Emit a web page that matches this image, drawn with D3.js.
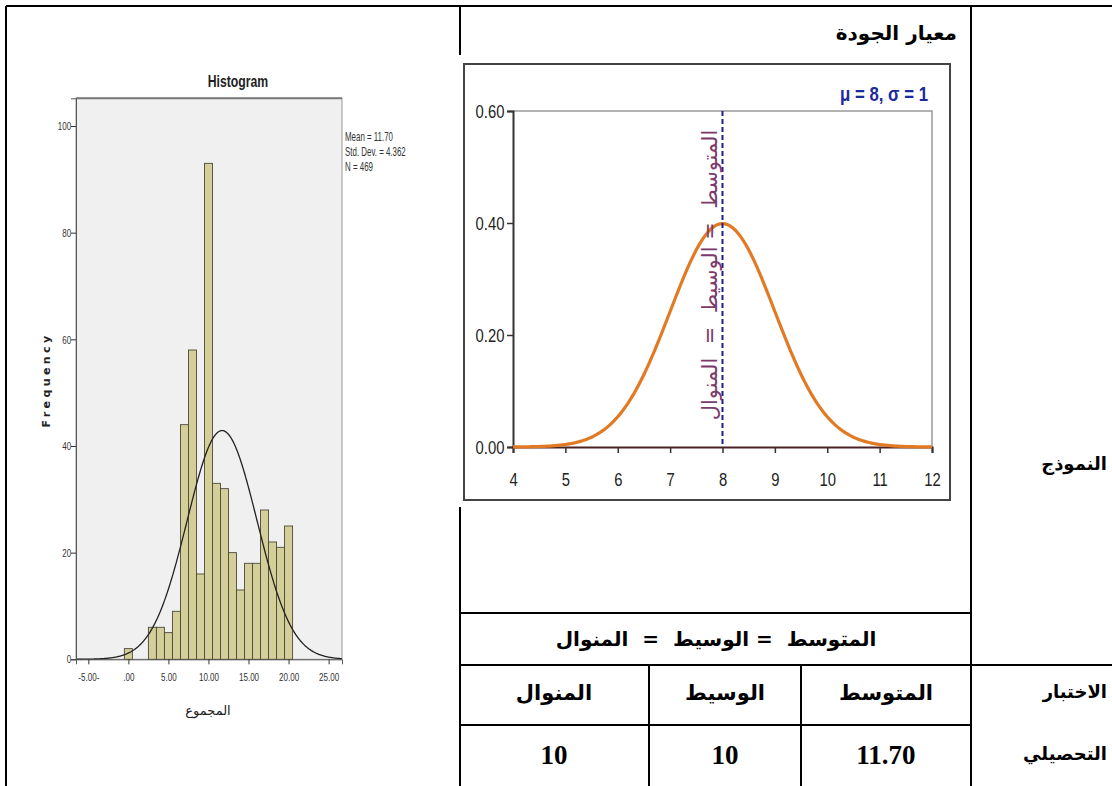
<!DOCTYPE html>
<html>
<head>
<meta charset="utf-8">
<script src="https://cdn.jsdelivr.net/npm/d3@7"></script>
<style>
  body { margin: 0; background: #fff; }
  svg { display: block; }
  text { white-space: pre; }
</style>
</head>
<body>
<div id="chart"></div>
<script>
// histogram (left cell)
var histBins = [0, 3, 4, 5, 6, 7, 8, 9, 10, 11, 12, 13, 14, 15, 16, 17, 18, 19, 20];
var histCounts = [2, 6, 6, 5, 9, 44, 58, 16, 93, 33, 32, 20, 13, 18, 18, 28, 22, 21, 25];
var histYTicks = [0, 20, 40, 60, 80, 100];
var histXTicks = [-5, 0, 5, 10, 15, 20, 25];
var histXTickLabels = ["-5.00-", ".00", "5.00", "10.00", "15.00", "20.00", "25.00"];
var histStats = ["Mean = 11.70", "Std. Dev. = 4.362", "N = 469"];
var histMean = 11.70, histSd = 4.362, histN = 469;

// normal model (middle cell)
var normMu = 8, normSigma = 1;
var normXTicks = [4, 5, 6, 7, 8, 9, 10, 11, 12];
var normYTicks = [0, 0.2, 0.4, 0.6];
var normYTickLabels = ["0.00", "0.20", "0.40", "0.60"];

// table texts
var cellTitle = "معيار الجودة";
var equalityText = "المتوسط  = الوسيط  =  المنوال";
var headers = ["المتوسط", "الوسيط", "المنوال"];
var values = ["11.70", "10", "10"];
var rowLabelModel = "النموذج";
var rowLabelTest = ["الاختبار", "التحصيلي"];

var W = 1112, H = 786;
var sans = "'Liberation Sans',Arial,sans-serif";
var arabic = "'DejaVu Sans',sans-serif";

// squeeze text horizontally (no narrow font installed)
function squeeze(sel, sx) {
    sel.attr("transform", "scale(" + sx + ",1)");
}

var svg = d3.select("#chart").append("svg")
    .attr("width", W).attr("height", H);

// ---------- left: histogram ----------
var hx = d3.scaleLinear().domain([-6.54, 26.67]).range([76, 342]);
var hy = d3.scaleLinear().domain([0, 105.2]).range([659.3, 98.3]);

var hg = svg.append("g");
hg.append("rect")
    .attr("x", hx.range()[0]).attr("y", hy.range()[1])
    .attr("width", hx.range()[1] - hx.range()[0])
    .attr("height", hy.range()[0] - hy.range()[1])
    .attr("fill", "#f0f0f0").attr("stroke", "#999").attr("stroke-width", 1);
hg.append("line")
    .attr("x1", hx.range()[0]).attr("x2", hx.range()[1])
    .attr("y1", hy.range()[1]).attr("y2", hy.range()[1])
    .attr("stroke", "#777").attr("stroke-width", 2);

hg.selectAll(".bar")
    .data(histBins)
    .enter().append("rect")
    .attr("class", "bar")
    .attr("x", function (d) { return hx(d - 0.5); })
    .attr("width", function (d) { return hx(d + 0.5) - hx(d - 0.5); })
    .attr("y", function (d, i) { return hy(histCounts[i]); })
    .attr("height", function (d, i) { return hy(0) - hy(histCounts[i]); })
    .attr("fill", "#d4cf98")
    .attr("stroke", "#4a4a3a")
    .attr("stroke-width", 0.9);

// fitted normal curve
var curvePts = d3.range(hx.domain()[0], hx.domain()[1] + 0.01, 0.1).map(function (v) {
    var z = (v - histMean) / histSd;
    return [v, histN * Math.exp(-0.5 * z * z) / (histSd * Math.sqrt(2 * Math.PI))];
});
hg.append("path")
    .datum(curvePts)
    .attr("fill", "none")
    .attr("stroke", "#222")
    .attr("stroke-width", 1.3)
    .attr("d", d3.line().x(function (d) { return hx(d[0]); }).y(function (d) { return hy(d[1]); }));

var hyAxis = hg.append("g")
    .attr("transform", "translate(" + hx.range()[0] + ",0)")
    .call(d3.axisLeft(hy).tickValues(histYTicks).tickSize(5).tickPadding(2));
var hxAxis = hg.append("g")
    .attr("transform", "translate(0," + hy(0) + ")")
    .call(d3.axisBottom(hx).tickValues(histXTicks).tickSize(5).tickPadding(9)
        .tickFormat(function (d, i) { return histXTickLabels[i]; }));
[hyAxis, hxAxis].forEach(function (a) {
    a.select(".domain").attr("stroke", "#555");
    a.selectAll(".tick line").attr("stroke", "#333");
    a.selectAll("text").attr("font-family", sans).attr("font-size", 11.5).attr("fill", "#333")
        .call(squeeze, 0.7);
});

hg.append("text")
    .attr("transform", "translate(238,87) scale(0.72,1)")
    .attr("text-anchor", "middle")
    .attr("font-family", sans).attr("font-size", 17).attr("font-weight", "bold")
    .attr("fill", "#222")
    .text("Histogram");

hg.append("g")
    .attr("transform", "translate(345,0) scale(0.66,1)")
    .selectAll(".stat")
    .data(histStats)
    .enter().append("text")
    .attr("class", "stat")
    .attr("x", 0)
    .attr("y", function (d, i) { return 141 + i * 15; })
    .attr("font-family", sans).attr("font-size", 12).attr("fill", "#333")
    .text(function (d) { return d; });

hg.append("text")
    .attr("transform", "translate(50,380) rotate(-90)")
    .attr("text-anchor", "middle")
    .attr("font-family", "'DejaVu Sans',sans-serif").attr("font-size", 11)
    .attr("font-weight", "bold").attr("letter-spacing", 3.4)
    .attr("fill", "#222")
    .text("Frequency");

hg.append("text")
    .attr("x", 208).attr("y", 715)
    .attr("text-anchor", "middle")
    .attr("font-family", arabic).attr("font-size", 13).attr("fill", "#222")
    .text("المجموع");

// ---------- middle: normal model image ----------
var ng = svg.append("g");
ng.append("rect")
    .attr("x", 458).attr("y", 55).attr("width", 500).attr("height", 452)
    .attr("fill", "#fff");
ng.append("rect")
    .attr("x", 464).attr("y", 64).attr("width", 486).attr("height", 436)
    .attr("fill", "#fff").attr("stroke", "#444").attr("stroke-width", 2);

var nx = d3.scaleLinear().domain([4, 12]).range([513, 932]);
var ny = d3.scaleLinear().domain([0, 0.6]).range([447, 111]);

// frame of plot (grey top / right)
ng.append("path")
    .attr("d", "M" + nx(4) + "," + ny(0.6) + "H" + nx(12) + "V" + ny(0))
    .attr("fill", "none").attr("stroke", "#999").attr("stroke-width", 1.5);

var nyAxis = ng.append("g")
    .attr("transform", "translate(" + nx(4) + ",0)")
    .call(d3.axisLeft(ny).tickValues(normYTicks).tickSize(6).tickPadding(5)
        .tickFormat(function (d, i) { return normYTickLabels[i]; }));
var nxAxis = ng.append("g")
    .attr("transform", "translate(0," + ny(0) + ")")
    .call(d3.axisBottom(nx).tickValues(normXTicks).tickSize(6).tickPadding(20));
[nyAxis, nxAxis].forEach(function (a) {
    a.select(".domain").attr("stroke", "#333").attr("stroke-width", 2);
    a.selectAll(".tick line").attr("stroke", "#333").attr("stroke-width", 1.5);
    a.selectAll("text").attr("font-family", sans).attr("font-size", 19).attr("fill", "#222")
        .call(squeeze, 0.78);
});
nxAxis.select(".domain").attr("stroke", "#4a2222");

var normPts = d3.range(4, 12.001, 0.05).map(function (v) {
    var z = (v - normMu) / normSigma;
    return [v, Math.exp(-0.5 * z * z) / (normSigma * Math.sqrt(2 * Math.PI))];
});
ng.append("path")
    .datum(normPts)
    .attr("fill", "none")
    .attr("stroke", "#e27a24")
    .attr("stroke-width", 3.2)
    .attr("d", d3.line().x(function (d) { return nx(d[0]); }).y(function (d) { return ny(d[1]); }));

ng.append("line")
    .attr("x1", nx(normMu)).attr("x2", nx(normMu))
    .attr("y1", ny(0.6)).attr("y2", ny(0))
    .attr("stroke", "#1b1f8c").attr("stroke-width", 2)
    .attr("stroke-dasharray", "5,3");

ng.append("text")
    .attr("transform", "translate(" + (nx(normMu) - 6) + ",275) rotate(-90)")
    .attr("text-anchor", "middle")
    .attr("font-family", arabic).attr("font-size", 21)
    .attr("fill", "#7b3a6c")
    .text(equalityText);

ng.append("text")
    .attr("transform", "translate(928,101) scale(0.84,1)")
    .attr("text-anchor", "end")
    .attr("font-family", sans).attr("font-size", 20).attr("font-weight", "bold")
    .attr("fill", "#1c2a9c")
    .text("μ = 8, σ = 1");

// ---------- table ----------
var tg = svg.append("g").attr("stroke", "#000").attr("stroke-width", 2);
var lines = [
    [6, 6, W, 6],
    [6, 6, 6, H],
    [460, 6, 460, 55],
    [460, 507, 460, H],
    [971, 6, 971, H],
    [460, 613, 971, 613],
    [460, 665, W, 665],
    [460, 725, 971, 725],
    [649, 665, 649, H],
    [801, 665, 801, H]
];
tg.selectAll("line")
    .data(lines)
    .enter().append("line")
    .attr("x1", function (d) { return d[0]; })
    .attr("y1", function (d) { return d[1]; })
    .attr("x2", function (d) { return d[2]; })
    .attr("y2", function (d) { return d[3]; });

var txt = svg.append("g").attr("font-family", arabic).attr("font-weight", "bold").attr("fill", "#000");

txt.append("text")
    .attr("x", 957).attr("y", 40)
    .attr("text-anchor", "end").attr("font-size", 20)
    .text(cellTitle);

txt.append("text")
    .attr("x", 716).attr("y", 646)
    .attr("text-anchor", "middle").attr("font-size", 20)
    .text(equalityText);

var colCenters = [886, 725, 554];
txt.selectAll(".hdr")
    .data(headers)
    .enter().append("text")
    .attr("class", "hdr")
    .attr("x", function (d, i) { return colCenters[i]; })
    .attr("y", 700)
    .attr("text-anchor", "middle").attr("font-size", 21)
    .text(function (d) { return d; });

txt.selectAll(".val")
    .data(values)
    .enter().append("text")
    .attr("class", "val")
    .attr("x", function (d, i) { return colCenters[i]; })
    .attr("y", 764)
    .attr("text-anchor", "middle")
    .attr("font-family", "'Liberation Serif',serif").attr("font-size", 27)
    .text(function (d) { return d; });

txt.append("text")
    .attr("x", 1107).attr("y", 470)
    .attr("text-anchor", "end").attr("font-size", 18)
    .text(rowLabelModel);

txt.selectAll(".rl")
    .data(rowLabelTest)
    .enter().append("text")
    .attr("class", "rl")
    .attr("x", 1107)
    .attr("y", function (d, i) { return 698 + i * 62; })
    .attr("text-anchor", "end").attr("font-size", 18)
    .text(function (d) { return d; });
</script>
</body>
</html>
